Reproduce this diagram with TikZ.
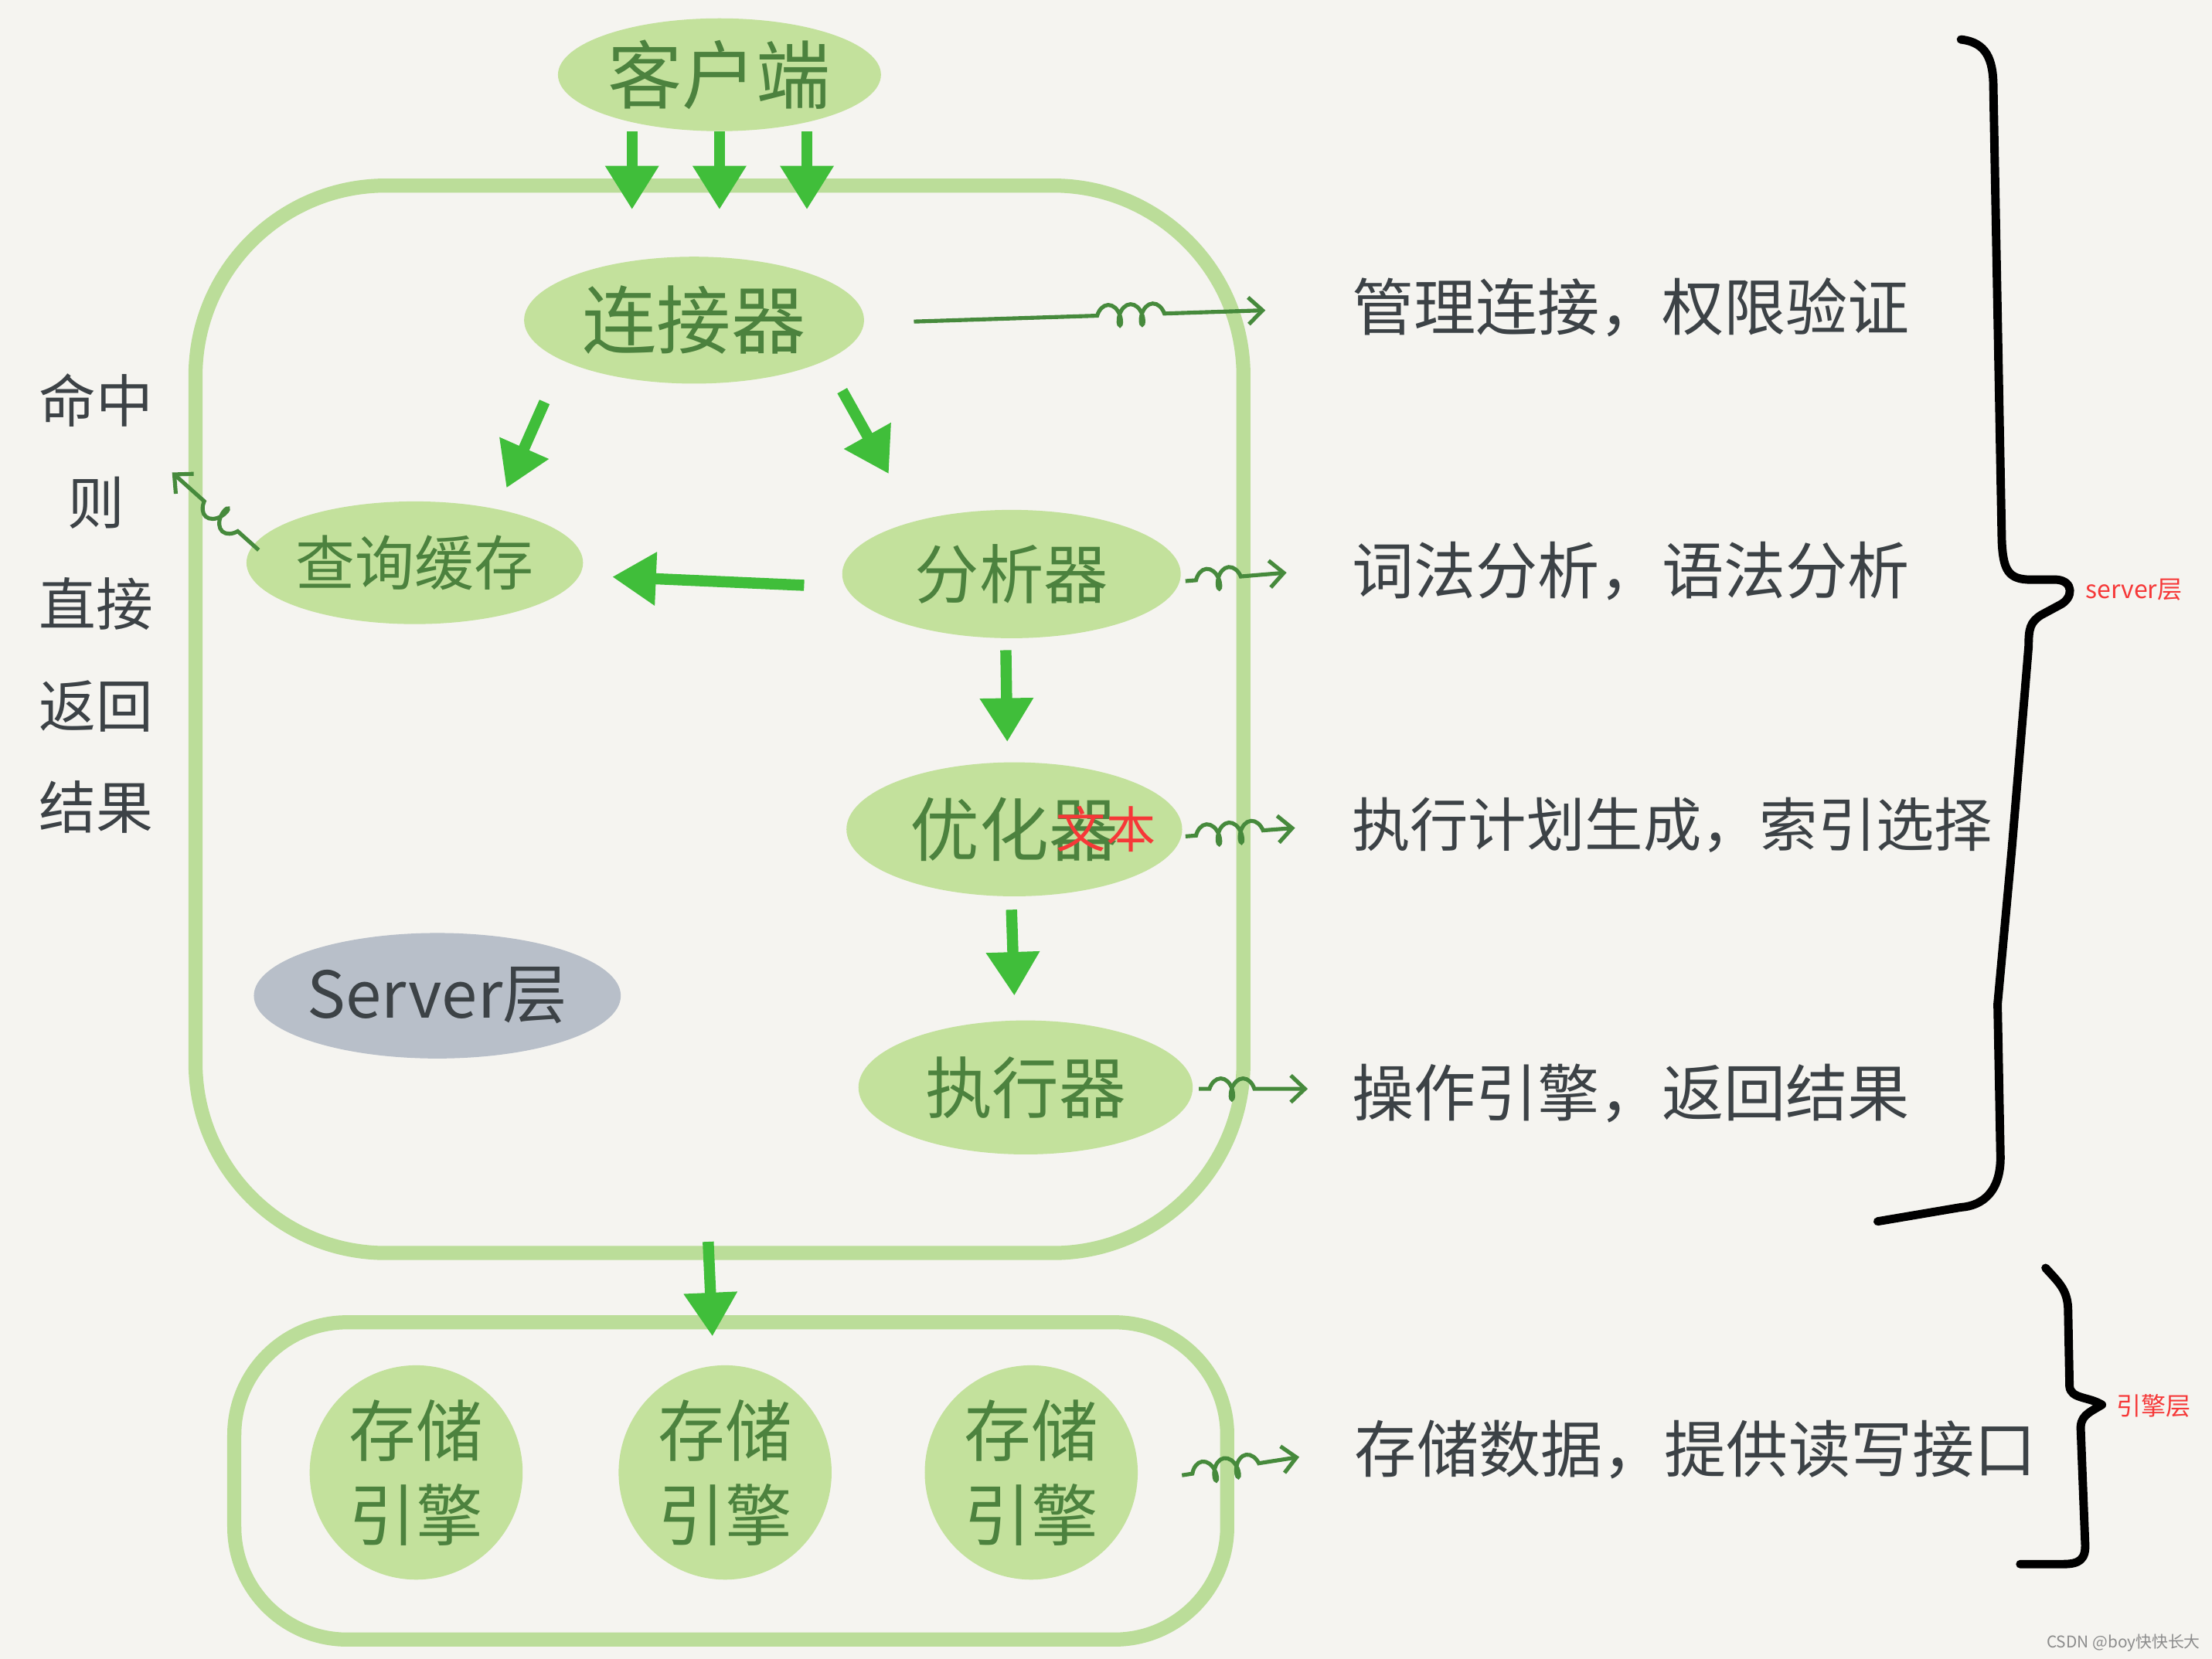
\documentclass[tikz,border=0pt]{standalone}
\usepackage{fontspec}
\usepackage{tikz}
\usetikzlibrary{shapes.geometric}
\usetikzlibrary{arrows.meta}
\usetikzlibrary{decorations.pathmorphing}
\newfontfamily\cjk{Noto Sans CJK SC}
\definecolor{paper}{RGB}{245,244,240}
\definecolor{leafgreen}{RGB}{195,225,156}
\definecolor{rimgreen}{RGB}{187,221,153}
\definecolor{arrowgreen}{RGB}{64,190,58}
\definecolor{inkgreen}{RGB}{76,130,62}
\definecolor{squiggreen}{RGB}{70,138,60}
\definecolor{inkgray}{RGB}{60,66,70}
\definecolor{slategray}{RGB}{184,191,201}
\definecolor{notered}{RGB}{246,56,56}

\begin{document}
\begin{tikzpicture}[x=0.02cm, y=-0.02cm,
        blob/.style={ellipse, fill=leafgreen, inner sep=0pt, text=inkgreen, font=\cjk\fontsize{#1}{#1}\selectfont},
        blob/.default=27,
        rim/.style={draw=rimgreen, line width=0.2cm, inner sep=0pt},
        flow/.style={arrowgreen, line width=4.5pt, -{Triangle[length=0.62cm, width=0.72cm]}},
        curly/.style 2 args={squiggreen, line width=1.6pt, -{Straight Barb[length=0.2cm, width=0.38cm]},
            decorate, decoration={coil, aspect=0.55, amplitude=4.2pt, segment length=9pt, pre length=#1, post length=#2}},
        remark/.style={text=inkgray, font=\cjk\fontsize{25}{25}\selectfont, anchor=west, inner sep=0pt},
        bracket/.style={black, line width=3.4pt, line cap=round, line join=round},
        redtag/.style={text=notered, font=\cjk\fontsize{10}{10}\selectfont, anchor=west, inner sep=0pt}]

        \fill[paper] (0,0) rectangle (1568,1176);
        \useasboundingbox (0,0) rectangle (1568,1176);

        % the two layers
        \node[rim, rounded corners=2.7cm, minimum width=14.86cm, minimum height=15.14cm] (server)  at (510,510)  {};
        \node[rim, rounded corners=1.6cm, minimum width=14.08cm, minimum height=4.5cm]   (engines) at (518,1050) {};

        \node[blob=30, minimum width=4.58cm, minimum height=1.6cm]  (client) at (510,53)  {客户端};
        \node[blob=30, minimum width=4.82cm, minimum height=1.8cm]  (conn)   at (492,227) {连接器};
        \node[blob=24, minimum width=4.76cm, minimum height=1.74cm] (cache)  at (294,399) {查询缓存};
        \node[blob=26, minimum width=4.8cm,  minimum height=1.82cm] (parse)  at (717,407) {分析器};
        \node[blob=28, minimum width=4.76cm, minimum height=1.9cm]  (opt)    at (719,588) {优化器};
        \node[blob=27, minimum width=4.74cm, minimum height=1.9cm]  (exec)   at (727,771) {执行器};
        \node[blob=26, fill=slategray, text=inkgray, minimum width=4.7cm, minimum height=1.78cm] (layer) at (310,706) {Server层};

        \node[blob, align=center, minimum width=3.02cm, minimum height=3.04cm, font=\cjk\fontsize{27}{34}\selectfont] (eng1) at (295,1044) {存储\\引擎};
        \node[blob, align=center, minimum width=3.02cm, minimum height=3.04cm, font=\cjk\fontsize{27}{34}\selectfont] (eng2) at (514,1044) {存储\\引擎};
        \node[blob, align=center, minimum width=3.02cm, minimum height=3.04cm, font=\cjk\fontsize{27}{34}\selectfont] (eng3) at (731,1044) {存储\\引擎};

        \node[text=notered, font=\cjk\fontsize{20}{20}\selectfont, inner sep=0pt] (stamp) at (784,588) {文本};

        % side notes
        \node[text=inkgray, align=center, inner sep=0pt, font=\cjk\fontsize{23}{41}\selectfont] (hit) at (68,428) {命中\\则\\直接\\返回\\结果};
        \coordinate (hitend) at (122,335);

        \node[remark] (conntext)  at (958,218)  {管理连接，权限验证};
        \node[remark] (parsetext) at (958,405)  {词法分析，语法分析};
        \node[remark, font=\cjk\fontsize{23.5}{23.5}\selectfont] (opttext) at (958,585) {执行计划生成，索引选择};
        \node[remark] (exectext)  at (958,775)  {操作引擎，返回结果};
        \node[remark] (storetext) at (960,1028) {存储数据，提供读写接口};

        % flow arrows
        \foreach \dx in {-62,0,62}
            \draw[flow] ([shift={(\dx,0)}]client.south) -- ([shift={(\dx,22)}]server.north);
        \draw[flow] ([shift={(-106,58)}]conn.center)  -- ([shift={(65,-53)}]cache.center);
        \draw[flow] ([shift={(105,50)}]conn.center)   -- ([shift={(-87,-71)}]parse.center);
        \draw[flow] ([shift={(-147,8)}]parse.center)  -- ([shift={(140,10)}]cache.center);
        \draw[flow] ([shift={(-4,54)}]parse.center)   -- ([shift={(-5,-62)}]opt.center);
        \draw[flow] ([shift={(-2,57)}]opt.center)     -- ([shift={(-8,-65)}]exec.center);
        \draw[flow] ([shift={(-8,-13)}]server.south)  -- ([shift={(-13,15)}]engines.north);

        % curly arrows to the notes
        \draw[curly={2.6cm}{1.3cm}]  ([shift={(35,1)}]conn.east)  -- ([shift={(-61,2)}]conntext.west);
        \draw[curly={0.15cm}{0.45cm}] ([shift={(3,5)}]parse.east)  -- ([shift={(-46,1)}]parsetext.west);
        \draw[curly={0.15cm}{0.45cm}] ([shift={(2,5)}]opt.east)    -- ([shift={(-40,2)}]opttext.west);
        \draw[curly={0.15cm}{0.45cm}] ([shift={(4,1)}]exec.east)   -- ([shift={(-31,-3)}]exectext.west);
        \draw[curly={0.15cm}{0.45cm}] ([shift={(31,2)}]eng3.east)  -- ([shift={(-39,5)}]storetext.west);
        \draw[curly={0.4cm}{0.45cm}]  ([shift={(9,-9)}]cache.west) -- (hitend);

        % braces
        \draw[bracket] (1390,28) .. controls (1408,30) and (1413,42) .. (1413,62)
            -- (1419,384) .. controls (1420,405) and (1424,411) .. (1440,411)
            -- (1458,411) .. controls (1470,412) and (1470,424) .. (1460,429)
            -- (1447,436) .. controls (1439,441) and (1438,446) .. (1438,458)
            -- (1426,603) -- (1416,712) -- (1418,818) .. controls (1419,845) and (1405,855) .. (1390,856)
            -- (1331,866);
        \coordinate (srvtip) at (1470,418);
        \draw[bracket] (1450,899) .. controls (1460,910) and (1466,915) .. (1466,930)
            -- (1467,983) .. controls (1468,992) and (1480,990) .. (1490,996)
            .. controls (1480,1002) and (1474,1004) .. (1475,1015)
            -- (1478,1093) .. controls (1479,1106) and (1474,1109) .. (1462,1109)
            -- (1432,1109);
        \coordinate (engtip) at (1492,997);

        \node[redtag] (srvtag) at ([shift={(8,0)}]srvtip) {server层};
        \node[redtag] (engtag) at ([shift={(8,0)}]engtip) {引擎层};
        \node[text=gray!90, font=\cjk\fontsize{6.5}{6.5}\selectfont, anchor=east, inner sep=0pt] (mark) at (1560,1165) {CSDN @boy快快长大};
    \end{tikzpicture}
\end{document}
